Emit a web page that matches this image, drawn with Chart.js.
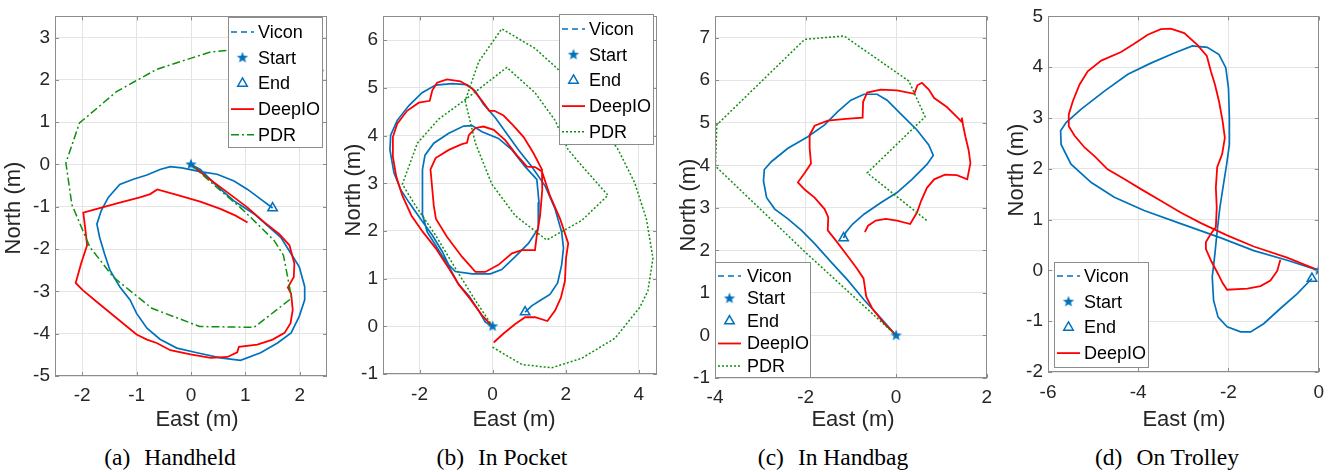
<!DOCTYPE html>
<html><head><meta charset="utf-8">
<script src="https://cdn.jsdelivr.net/npm/chart.js@4.4.1/dist/chart.umd.min.js"></script>
<style>
html,body{margin:0;padding:0;background:#fff;width:1333px;height:472px;overflow:hidden;position:relative;}
.panel{position:absolute;top:0;height:440px;}
.cap{position:absolute;top:446px;font-family:'Liberation Serif','Times New Roman',serif;font-size:23.5px;line-height:23.5px;color:#000;white-space:pre;transform:translateX(-50%);}
.cap span+span{margin-left:14px;}
</style></head><body>
<script>
// ---------- tick labels ----------
const aXTicks = [-2,-1,0,1,2];      const aYTicks = [-5,-4,-3,-2,-1,0,1,2,3];
const bXTicks = [-2,0,2,4];         const bYTicks = [-1,0,1,2,3,4,5,6];
const cXTicks = [-4,-2,0,2];        const cYTicks = [-1,0,1,2,3,4,5,6,7];
const dXTicks = [-6,-4,-2,0];       const dYTicks = [-2,-1,0,1,2,3,4,5];
const aRange = [-2.5,2.5,-5,3.5];
const bRange = [-3,4.5,-1,6.5];
const cRange = [-4,2,-1,7.5];
const dRange = [-6,0,-2,5];
const captionLabels = ['(a)','(b)','(c)','(d)'];
const captionNames = ['Handheld','In Pocket','In Handbag','On Trolley'];
const seriesNames = ['Vicon','Start','End','DeepIO','PDR'];
const xTitle = 'East (m)', yTitle = 'North (m)';

// ---------- (a) Handheld ----------
const aViconE = [0,0.17,0.48,0.79,1.16,1.41,1.65,1.84,1.99,2.09,2.09,1.99,1.84,1.59,1.28,0.91,0.54,0.11,-0.26,-0.57,-0.81,-1.0,-1.12,-1.31,-1.49,-1.59,-1.68,-1.73,-1.65,-1.52,-1.31,-1.06,-0.81,-0.57,-0.38,-0.17,0.17,0.48,0.79,1.04,1.28,1.5];
const aViconN = [0,-0.12,-0.51,-0.86,-1.17,-1.45,-1.72,-2.11,-2.42,-2.89,-3.2,-3.59,-3.98,-4.22,-4.45,-4.63,-4.57,-4.45,-4.34,-4.13,-3.87,-3.52,-3.2,-2.89,-2.5,-2.11,-1.72,-1.41,-1.09,-0.78,-0.47,-0.35,-0.25,-0.12,-0.05,-0.08,-0.17,-0.23,-0.39,-0.59,-0.82,-1.03];
const aDeepE = [0,0.30,0.67,1.04,1.35,1.62,1.81,1.90,1.89,1.78,1.84,1.87,1.83,1.72,1.5,1.22,0.88,0.85,0.67,0.36,-0.01,-0.38,-0.63,-0.81,-1.0,-1.37,-1.74,-1.99,-2.12,-2.02,-1.91,-1.94,-1.98,-1.68,-1.31,-0.94,-0.75,-0.62,-0.26,0.17,0.54,0.82,1.04];
const aDeepN = [0,-0.31,-0.66,-1.02,-1.37,-1.64,-1.91,-2.34,-2.66,-2.91,-3.05,-3.44,-3.75,-3.98,-4.14,-4.26,-4.31,-4.44,-4.55,-4.57,-4.49,-4.39,-4.22,-4.14,-4.02,-3.63,-3.24,-2.97,-2.8,-2.34,-1.91,-1.56,-1.14,-1.03,-0.9,-0.78,-0.7,-0.59,-0.72,-0.88,-1.05,-1.21,-1.37];
const aPdrE = [0,0.48,0.91,1.28,1.53,1.70,1.85,1.16,0.16,-0.72,-1.43,-1.86,-2.19,-2.3,-2.05,-1.37,-0.63,0.36,0.79,1.41,2.02,2.58];
const aPdrN = [0,-0.55,-1.02,-1.48,-1.8,-2.15,-3.16,-3.85,-3.83,-3.4,-2.66,-1.95,-0.95,0.04,0.98,1.72,2.25,2.66,2.71,2.7,2.46,2.13];

// ---------- (b) In Pocket ----------
const bViconE = [0,-0.2,-0.38,-0.65,-0.93,-1.15,-1.34,-1.56,-1.79,-1.91,-1.93,-1.91,-1.85,-1.61,-1.2,-0.79,-0.56,-0.29,0.16,0.53,0.89,1.21,1.27,1.25,0.98,0.62,0.25,-0.06,-0.56,-1.02,-1.2,-1.38,-1.65,-1.97,-2.29,-2.52,-2.7,-2.81,-2.79,-2.61,-2.29,-1.93,-1.56,-1.11,-0.7,-0.47,-0.25,0.07,0.39,0.71,1.07,1.44,1.71,1.89,1.94,1.89,1.78,1.57,1.3,1.07,0.89];
const bViconN = [0,0.09,0.33,0.64,0.88,1.19,1.43,1.70,1.98,2.32,2.80,3.29,3.59,3.84,4.05,4.2,4.21,4.08,3.94,3.70,3.35,3.08,2.60,2.05,1.74,1.46,1.19,1.10,1.10,1.15,1.29,1.57,1.91,2.25,2.60,2.87,3.22,3.70,4.01,4.32,4.63,4.90,5.06,5.09,5.07,4.93,4.66,4.38,4.04,3.70,3.35,2.94,2.46,1.98,1.64,1.29,0.91,0.67,0.54,0.43,0.30];
const bDeepE = [0,-0.29,-0.61,-0.93,-1.2,-1.56,-1.91,-2.22,-2.47,-2.64,-2.73,-2.73,-2.61,-2.34,-2.02,-1.72,-1.65,-1.52,-1.25,-0.88,-0.56,-0.29,-0.09,0.05,0.3,0.57,0.85,1.12,1.35,1.36,1.3,1.21,1.16,0.8,0.53,0.16,-0.2,-0.47,-0.84,-1.25,-1.55,-1.61,-1.65,-1.7,-1.56,-1.2,-0.84,-0.7,-0.65,-0.47,-0.25,0.03,0.35,0.66,0.94,1.16,1.35,1.57,1.85,2.07,2.01,1.98,1.87,1.71,1.5,1.16,0.89,0.62,0.3,0.03];
const bDeepN = [0,0.23,0.57,0.88,1.22,1.64,1.98,2.32,2.74,3.15,3.56,3.97,4.25,4.52,4.69,4.73,4.95,5.11,5.18,5.14,4.99,4.73,4.52,4.52,4.42,4.21,3.97,3.63,3.29,2.87,2.32,1.91,1.60,1.60,1.53,1.29,1.14,1.14,1.46,1.88,2.25,2.53,2.87,3.29,3.53,3.70,3.82,3.85,4.01,4.16,4.19,4.12,3.90,3.59,3.35,3.34,3.25,2.74,2.25,1.74,1.43,0.95,0.60,0.33,0.11,0.19,0.19,0.05,-0.15,-0.34];
const bPdrE = [0,-0.47,-1.02,-1.56,-2.11,-2.47,-2.06,-1.47,-0.79,0.39,1.16,1.71,2.07,2.53,3.16,2.44,1.48,0.62,-0.02,-0.47,-0.75,-0.38,0.25,1.16,1.75,2.35,2.89,3.44,3.89,4.21,4.39,4.25,4.03,3.35,2.44,1.62,0.8,-0.02];
const bPdrN = [0,0.54,1.22,1.91,2.53,2.98,3.84,4.35,4.73,5.43,4.90,4.32,3.70,3.29,2.75,2.22,1.81,2.32,2.98,3.84,4.73,5.55,6.24,5.83,5.42,4.93,4.32,3.70,3.01,2.25,1.43,0.74,0.40,-0.25,-0.67,-0.87,-0.8,-0.43];

// ---------- (c) In Handbag ----------
const cViconE = [0,-0.34,-0.71,-1.07,-1.44,-1.8,-2.09,-2.39,-2.68,-2.86,-2.93,-2.91,-2.75,-2.39,-1.95,-1.58,-1.29,-1.0,-0.71,-0.42,-0.2,0.09,0.46,0.72,0.82,0.68,0.35,0.02,-0.34,-0.71,-0.96,-1.11,-1.16];
const cViconN = [0,0.41,0.84,1.30,1.73,2.16,2.47,2.74,2.97,3.24,3.63,3.90,4.09,4.40,4.67,4.95,5.26,5.53,5.67,5.67,5.53,5.22,4.83,4.48,4.23,4.02,3.67,3.36,3.12,2.85,2.62,2.43,2.29];
const cDeepE = [0,-0.27,-0.53,-0.66,-0.72,-0.89,-1.11,-1.33,-1.51,-1.5,-1.58,-1.8,-2.02,-2.17,-2.02,-1.88,-1.91,-1.91,-1.8,-1.51,-1.11,-0.74,-0.73,-0.64,-0.34,0.02,0.4,0.47,0.57,0.72,0.84,1.12,1.34,1.46,1.45,1.48,1.53,1.6,1.64,1.57,1.34,1.08,0.84,0.68,0.55,0.46,0.31,0.02,-0.23,-0.45,-0.62,-0.69];
const cDeepN = [0,0.29,0.64,0.91,1.34,1.61,1.92,2.23,2.47,2.78,2.97,3.24,3.43,3.60,3.82,4.04,4.40,4.71,4.93,5.05,5.09,5.12,5.49,5.71,5.78,5.76,5.68,5.88,5.94,5.78,5.58,5.37,5.14,5.01,5.12,4.93,4.67,4.36,4.05,3.67,3.77,3.78,3.67,3.47,3.16,2.89,2.62,2.70,2.74,2.70,2.58,2.43];
const cPdrE = [0,-2.0,-3.99,-3.96,-2.02,-1.15,0.28,0.64,-0.64,0.68];
const cPdrN = [0,1.95,3.98,4.95,6.96,7.04,5.98,5.14,3.82,2.70];

// ---------- (d) On Trolley ----------
const dViconE = [0,-0.7,-1.44,-2.17,-3.06,-3.87,-4.53,-5.04,-5.49,-5.71,-5.72,-5.6,-5.27,-4.75,-4.23,-3.72,-3.2,-2.8,-2.47,-2.21,-2.06,-2.0,-1.98,-1.98,-2.04,-2.11,-2.19,-2.25,-2.3,-2.36,-2.33,-2.23,-2.03,-1.73,-1.51,-1.22,-0.85,-0.48,-0.15];
const dViconN = [0,0.2,0.39,0.64,0.92,1.18,1.44,1.73,2.09,2.48,2.75,2.91,3.17,3.53,3.86,4.08,4.28,4.42,4.39,4.25,3.99,3.59,3.01,2.48,2.09,1.70,1.24,0.78,0.33,-0.13,-0.59,-0.92,-1.11,-1.21,-1.21,-1.05,-0.75,-0.46,-0.16];
const dDeepE = [0,-0.7,-1.44,-2.03,-2.61,-3.06,-3.5,-3.94,-4.31,-4.68,-4.97,-5.19,-5.41,-5.54,-5.54,-5.45,-5.3,-5.12,-4.82,-4.38,-4.09,-3.79,-3.5,-3.28,-2.98,-2.69,-2.48,-2.39,-2.3,-2.21,-2.13,-2.08,-2.14,-2.25,-2.28,-2.26,-2.28,-2.39,-2.5,-2.5,-2.38,-2.23,-2.13,-2.03,-1.58,-1.29,-1.07,-0.92,-0.85];
const dDeepN = [0,0.25,0.47,0.69,0.93,1.14,1.37,1.60,1.80,1.99,2.25,2.42,2.65,2.84,3.07,3.33,3.66,3.92,4.13,4.30,4.46,4.64,4.75,4.76,4.67,4.44,4.22,3.92,3.66,3.33,2.94,2.61,2.29,2.03,1.63,1.24,0.85,0.72,0.56,0.42,0.18,-0.07,-0.25,-0.38,-0.36,-0.31,-0.20,-0.01,0.21];

// ---------- styling / layout (separate from data) ----------
const BLUE = '#0072BD', RED = '#FF0000', GREEN = '#0f8f0f';
const TICK_COLOR = '#262626', GRID_COLOR = '#e4e4e4', FRAME_COLOR = '#8c8c8c';
const SANS = "'Liberation Sans', Arial, Helvetica, sans-serif";
Chart.defaults.font.family = SANS;

function makeStar(color, r) {
  const s = Math.ceil(r * 2 + 2);
  const c = document.createElement('canvas'); c.width = s; c.height = s;
  const g = c.getContext('2d'); g.fillStyle = color; g.beginPath();
  for (let i = 0; i < 10; i++) {
    const rr = i % 2 ? r * 0.42 : r; const ang = -Math.PI / 2 + i * Math.PI / 5;
    g.lineTo(s / 2 + rr * Math.cos(ang), s / 2 + rr * Math.sin(ang));
  }
  g.closePath(); g.fill(); return c;
}
const STAR = makeStar(BLUE, 6);

const pts = (E, N) => E.map((e, i) => ({x: e, y: N[i]}));

function buildDatasets(vE, vN, dE, dN, pE, pN, pdrDash) {
  const ds = [
    {label: seriesNames[1], data: [{x: vE[0], y: vN[0]}], showLine: false, pointStyle: STAR, pointRadius: 6, order: 0, legendRank: 1, kind: 'star'},
    {label: seriesNames[2], data: [{x: vE[vE.length-1], y: vN[vN.length-1]}], showLine: false, pointStyle: 'triangle', pointRadius: 5.5,
     pointBorderColor: BLUE, pointBackgroundColor: 'rgba(255,255,255,0)', pointBorderWidth: 1.5, order: 1, legendRank: 2, kind: 'tri'},
    {label: seriesNames[3], data: pts(dE, dN), showLine: true, borderColor: RED, borderWidth: 1.8, pointRadius: 0, order: 3, legendRank: 3, kind: 'line'},
    {label: seriesNames[0], data: pts(vE, vN), showLine: true, borderColor: BLUE, borderWidth: 1.7, pointRadius: 0, order: 4, legendRank: 0, kind: 'line', legendDash: [6, 4]}
  ];
  if (pE) ds.push({label: seriesNames[4], data: pts(pE, pN), showLine: true, borderColor: GREEN, borderWidth: 1.5,
    borderDash: pdrDash, pointRadius: 0, order: 2, legendRank: 4, kind: 'line'});
  return ds;
}

const framePlugin = {
  id: 'frame',
  afterDatasetsDraw(chart) {
    const {ctx, chartArea: {left, right, top, bottom}, scales: {x, y}} = chart;
    ctx.save();
    ctx.strokeStyle = FRAME_COLOR; ctx.lineWidth = 1;
    ctx.strokeRect(Math.round(left) + 0.5, Math.round(top) + 0.5, Math.round(right - left) - 1, Math.round(bottom - top) - 1);
    ctx.beginPath();
    x.ticks.forEach(t => { const px = Math.round(x.getPixelForValue(t.value)) + 0.5;
      ctx.moveTo(px, bottom); ctx.lineTo(px, bottom - 4); ctx.moveTo(px, top); ctx.lineTo(px, top + 4); });
    y.ticks.forEach(t => { const py = Math.round(y.getPixelForValue(t.value)) + 0.5;
      ctx.moveTo(left, py); ctx.lineTo(left + 4, py); ctx.moveTo(right, py); ctx.lineTo(right - 4, py); });
    ctx.stroke();
    ctx.restore();
  }
};

// axis titles placed where the reference puts them
const titlePlugin = {
  id: 'axisTitles',
  afterDraw(chart) {
    const o = chart.options.plugins.axisTitles; if (!o) return;
    const ctx = chart.ctx; ctx.save();
    ctx.fillStyle = TICK_COLOR; ctx.font = '22px ' + SANS; ctx.textAlign = 'center'; ctx.textBaseline = 'middle';
    ctx.fillText(xTitle, o.xt[0], o.xt[1]);
    ctx.translate(o.yt[0], o.yt[1]); ctx.rotate(-Math.PI / 2); ctx.fillText(yTitle, 0, 0);
    ctx.restore();
  }
};

const legendPlugin = {
  id: 'boxLegend',
  afterDraw(chart) {
    const o = chart.options.plugins.boxLegend; if (!o) return;
    const ctx = chart.ctx; ctx.save();
    ctx.fillStyle = '#fff'; ctx.fillRect(o.x, o.y, o.w, o.h);
    ctx.strokeStyle = FRAME_COLOR; ctx.lineWidth = 1; ctx.strokeRect(o.x + 0.5, o.y + 0.5, o.w, o.h);
    ctx.font = '18px ' + SANS; ctx.textBaseline = 'middle';
    const items = chart.data.datasets.slice().sort((p, q) => p.legendRank - q.legendRank);
    items.forEach((d, i) => {
      const cy = o.y + o.first + i * o.row;
      const x0 = o.x + 3, x1 = o.x + 26, xm = (x0 + x1) / 2;
      if (d.kind === 'line') {
        ctx.save(); ctx.strokeStyle = d.borderColor; ctx.lineWidth = d.borderWidth;
        ctx.setLineDash(d.legendDash || d.borderDash || []);
        ctx.beginPath(); ctx.moveTo(x0, cy); ctx.lineTo(x1, cy); ctx.stroke(); ctx.restore();
      } else if (d.kind === 'star') {
        ctx.drawImage(STAR, xm - STAR.width / 2, cy - STAR.height / 2);
      } else {
        const r = d.pointRadius; ctx.save(); ctx.strokeStyle = BLUE; ctx.lineWidth = 1.5; ctx.beginPath();
        for (let k = 0; k < 3; k++) { const a = k * 2 * Math.PI / 3; const px = xm + Math.sin(a) * r, py = cy - Math.cos(a) * r;
          k ? ctx.lineTo(px, py) : ctx.moveTo(px, py); }
        ctx.closePath(); ctx.stroke(); ctx.restore();
      }
      ctx.fillStyle = '#000'; ctx.fillText(d.label, o.x + o.tx, cy + 1);
    });
    ctx.restore();
  }
};

const panels = [
  {left: 2, width: 336, yw: 53, pr: 11, pt: 14, bottom: 376, xpad: 8, capX: 170, range: aRange, xt: aXTicks, yt: aYTicks,
   titles: {xt: [195, 420], yt: [12, 208]},
   ds: buildDatasets(aViconE, aViconN, aDeepE, aDeepN, aPdrE, aPdrN, [8, 3, 2, 3]),
   legend: {x: 226, y: 17, w: 94, h: 130, first: 15, row: 25.7, tx: 30}},
  {left: 338, width: 327, yw: 45, pr: 8, pt: 11, bottom: 374, xpad: 9, capX: 502, range: bRange, xt: bXTicks, yt: bYTicks,
   titles: {xt: [176, 420], yt: [16, 190]},
   ds: buildDatasets(bViconE, bViconN, bDeepE, bDeepN, bPdrE, bPdrN, [2, 2]),
   legend: {x: 221, y: 14, w: 94, h: 130, first: 15, row: 25.7, tx: 30}},
  {left: 672, width: 328, yw: 43, pr: 12, pt: 14, bottom: 378, xpad: 8, capX: 833, range: cRange, xt: cXTicks, yt: cYTicks,
   titles: {xt: [181, 420], yt: [17, 205]},
   ds: buildDatasets(cViconE, cViconN, cDeepE, cDeepN, cPdrE, cPdrN, [2, 2]),
   legend: {x: 43, y: 262, w: 95, h: 115, first: 14, row: 22.5, tx: 32}},
  {left: 1004, width: 329, yw: 44, pr: 13, pt: 15, bottom: 372, xpad: 9, capX: 1167, range: dRange, xt: dXTicks, yt: dYTicks,
   titles: {xt: [180, 420], yt: [13, 170]},
   ds: buildDatasets(dViconE, dViconN, dDeepE, dDeepN, null, null, null),
   legend: {x: 50, y: 262, w: 94, h: 105, first: 14, row: 25.7, tx: 30}}
];

const CANVAS_H = 440;
panels.forEach((p, idx) => {
  const div = document.createElement('div'); div.className = 'panel';
  div.style.left = p.left + 'px'; div.style.width = p.width + 'px';
  const cv = document.createElement('canvas'); cv.width = p.width; cv.height = CANVAS_H;
  cv.style.width = p.width + 'px'; cv.style.height = CANVAS_H + 'px';
  div.appendChild(cv); document.body.appendChild(div);
  const cap = document.createElement('div'); cap.className = 'cap'; cap.style.left = p.capX + 'px';
  const s1 = document.createElement('span'); s1.textContent = captionLabels[idx];
  const s2 = document.createElement('span'); s2.textContent = captionNames[idx];
  cap.appendChild(s1); cap.appendChild(s2); document.body.appendChild(cap);

  new Chart(cv, {
    type: 'scatter',
    data: {datasets: p.ds},
    options: {
      responsive: false, animation: false, events: [],
      layout: {padding: {left: 0, right: p.pr, top: p.pt, bottom: 0}},
      elements: {line: {tension: 0}},
      plugins: {legend: {display: false}, tooltip: {enabled: false}, boxLegend: p.legend, axisTitles: p.titles},
      scales: {
        x: {type: 'linear', min: p.range[0], max: p.range[1],
          afterBuildTicks: s => { s.ticks = p.xt.map(v => ({value: v})); },
          afterFit: s => { s.height = CANVAS_H - p.bottom; },
          grid: {color: GRID_COLOR, drawTicks: false, lineWidth: 1},
          border: {display: false},
          ticks: {padding: p.xpad, color: TICK_COLOR, font: {size: 19}, autoSkip: false, maxRotation: 0, callback: v => String(v)},
          title: {display: false}},
        y: {type: 'linear', min: p.range[2], max: p.range[3],
          afterBuildTicks: s => { s.ticks = p.yt.map(v => ({value: v})); },
          afterFit: s => { s.width = p.yw; },
          grid: {color: GRID_COLOR, drawTicks: false, lineWidth: 1},
          border: {display: false},
          ticks: {padding: 5, color: TICK_COLOR, font: {size: 19}, autoSkip: false, callback: v => String(v)},
          title: {display: false}}
      }
    },
    plugins: [framePlugin, legendPlugin, titlePlugin]
  });
});
</script>
</body></html>
